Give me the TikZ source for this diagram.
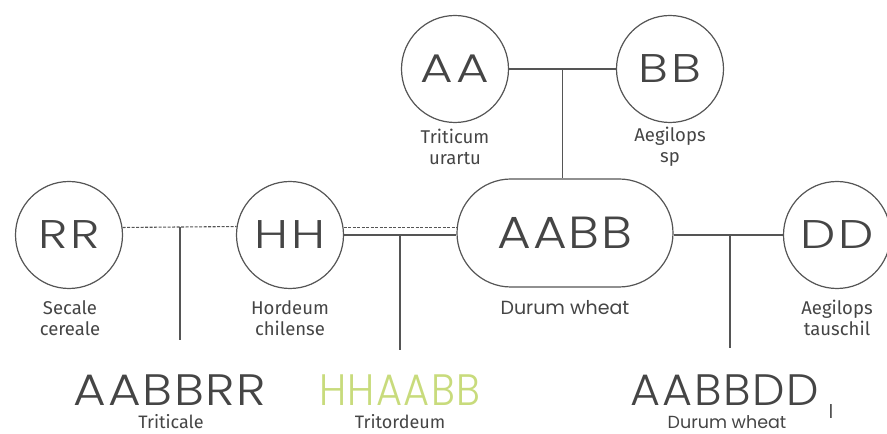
\documentclass[tikz,border=0pt]{standalone}
\usepackage{fontspec}
\setmainfont{Fira Sans}
\newfontfamily\geo{Poppins}[UprightFont=* Light, FakeStretch=1.15, LetterSpace=4]
\newfontfamily\geoc{Poppins}[UprightFont=* Light, FakeStretch=1.25, LetterSpace=8]
\newfontfamily\geom{Poppins}
\usetikzlibrary{shapes.misc,calc}
\definecolor{linec}{HTML}{555555}
\definecolor{txt}{HTML}{454545}
\definecolor{lime}{HTML}{C8DB7C}
\begin{document}
\begin{tikzpicture}[x=1pt,y=1pt,
  gen/.style={circle,draw=linec,line width=1.2pt,minimum size=107pt,inner sep=0pt,
    font=\geoc\fontsize{40}{40}\selectfont,text=txt},
  genbox/.style={rounded rectangle,draw=linec,line width=1.2pt,minimum width=216pt,
    minimum height=108pt,inner sep=0pt,font=\geo\fontsize{45}{45}\selectfont,text=txt},
  lbl/.style={align=center,font=\fontsize{18.5}{21}\selectfont,text=txt,inner sep=0pt},
  glbl/.style={font=\geom\fontsize{19}{21}\selectfont,text=txt,inner sep=0pt},
  big/.style={font=\geo\fontsize{44}{44}\selectfont,text=txt,inner sep=0pt,transform shape},
  conn/.style={draw=linec,line width=1.1pt},
  dsh/.style={conn,dash pattern=on 3pt off 1.5pt}]
\useasboundingbox (0,0) rectangle (887,434);
% genome nodes
\node[gen] (AA) at (455,365) {AA};
\node[gen] (BB) at (670,365) {BB};
\node[genbox] (AABB) at (565,201) {AABB};
\node[gen] (RR) at (69,199) {RR};
\node[gen] (HH) at (290,199) {HH};
\node[gen] (DD) at (837,199) {DD};
% species labels
\node[lbl] (lAA) at (455,287) {Triticum\\urartu};
\node[lbl] (lBB) at (670,287) {Aegilops\\sp};
\node[lbl] (lRR) at (70,116) {Secale\\cereale};
\node[lbl] (lHH) at (290,116) {Hordeum\\chilense};
\node[glbl] (lAABB) at (565,126) {Durum wheat};
\node[lbl] (lDD) at (837,116) {Aegilops\\tauschil};
% hybrids
\node[big,xscale=0.99] (tri) at (170,44) {AABBRR};
\node[lbl,font=\fontsize{18}{21}\selectfont] (ltri) at (171,12) {Triticale};
\node[big,text=lime,xscale=0.79] (trit) at (400,44) {HHAABB};
\node[lbl,font=\fontsize{18}{21}\selectfont] (ltrit) at (400,12) {Tritordeum};
\node[big,xscale=0.91] (dw) at (725,44) {AABBDD};
\node[lbl,font=\geo\fontsize{20}{20}\selectfont] (dwi) at (831,22) {I};
\node[glbl,font=\geom\fontsize{17.5}{20}\selectfont] (ldw) at (727,12) {Durum wheat};
% junction coordinates
\coordinate (jAB) at ($(AA.east)!0.5!(BB.west)$);
\coordinate (jRH) at (180,207);
\coordinate (jHA) at (400,199);
\coordinate (jAD) at (730,199);
\coordinate (eRH) at (180,94);
\coordinate (eHA) at (400,84);
\coordinate (eAD) at (730,86);
% connectors
\draw[conn] (AA) -- (BB);
\draw[conn] (jAB) -- (jAB |- AABB.north);
\draw[dsh] (RR.8.7) -- (HH.171.3);
\draw[conn] (jRH) -- (eRH);
\draw[dsh] (HH.8.7) -- (HH.8.7 -| AABB.west);
\draw[conn] (HH.east) -- (HH.east -| AABB.west);
\draw[conn] (jHA) -- (eHA);
\draw[conn] (AABB.east |- DD.west) -- (DD.west);
\draw[conn] (jAD) -- (eAD);
\end{tikzpicture}
\end{document}
